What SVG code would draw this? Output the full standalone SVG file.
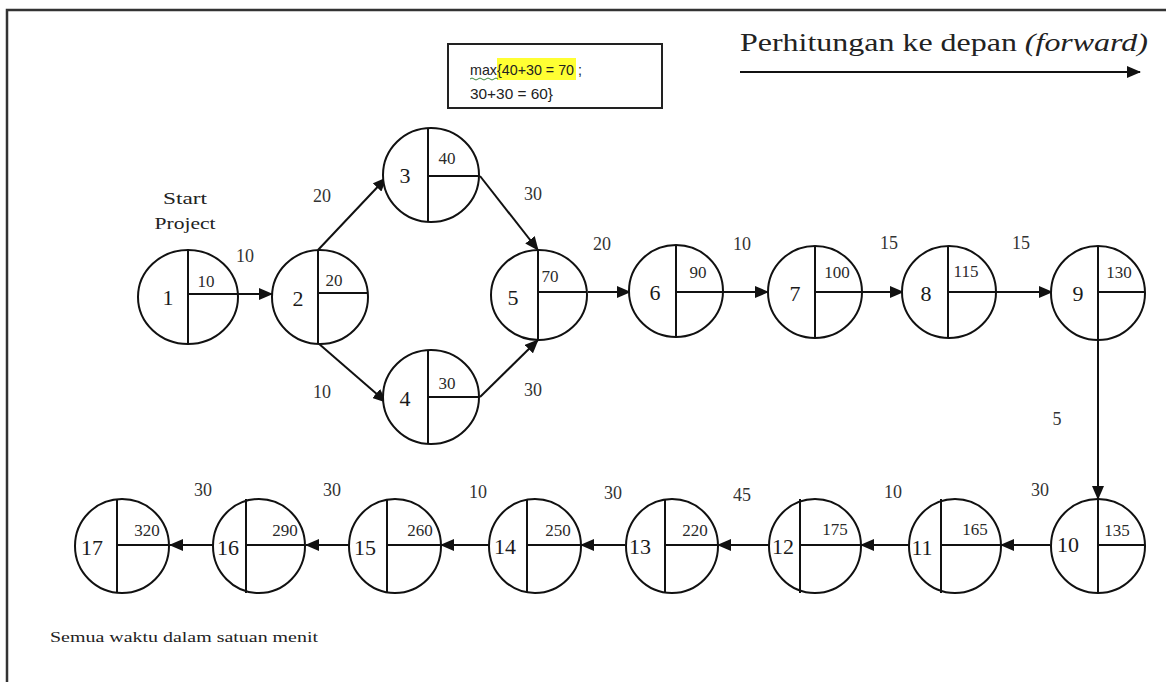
<svg xmlns="http://www.w3.org/2000/svg" width="1166" height="682" viewBox="0 0 1166 682">
  <style>
    .frame { fill: none; stroke: #333; stroke-width: 2.5; }
    .node ellipse { fill: #fff; stroke: #111; stroke-width: 2; }
    .node line { stroke: #111; stroke-width: 2; }
    .id { font-family: "Liberation Serif", serif; font-size: 22px; fill: #1a1a1a; text-anchor: middle; }
    .val { font-family: "Liberation Serif", serif; font-size: 17px; fill: #2a2a2a; text-anchor: middle; }
    .edge { stroke: #111; stroke-width: 2; fill: none; marker-end: url(#arrow); }
    .w { font-family: "Liberation Serif", serif; font-size: 18px; fill: #333; text-anchor: middle; }
    .note { font-family: "Liberation Serif", serif; font-size: 16px; fill: #222; text-anchor: middle; }
    .box { fill: #fff; stroke: #222; stroke-width: 2; }
    .boxtxt { font-family: "Liberation Sans", sans-serif; font-size: 15px; fill: #222; }
  </style>
  <defs>
    <marker id="arrow" markerUnits="userSpaceOnUse" markerWidth="14" markerHeight="12" refX="13" refY="6" orient="auto">
      <path d="M0,0 L14,6 L0,12 z" fill="#111"/>
    </marker>
  </defs>

  <rect width="1166" height="682" fill="#fff"/>
  <!-- outer frame -->
  <path class="frame" d="M7,682 V10 H1166"/>

  <!-- direction heading -->
  <g id="heading">
    <text x="740" y="51" font-family="Liberation Serif, serif" font-size="25" fill="#222" textLength="408" lengthAdjust="spacingAndGlyphs">Perhitungan ke depan <tspan font-style="italic">(forward)</tspan></text>
    <line x1="740" y1="72" x2="1140" y2="72" class="edge"/>
  </g>

  <!-- max note -->
  <g id="maxnote">
    <rect class="box" x="448" y="44" width="214" height="64"/>
    <rect x="497" y="58" width="79" height="22" fill="#ffff33"/>
    <text class="boxtxt" x="470" y="75" textLength="112" lengthAdjust="spacingAndGlyphs">max{40+30 = 70 ;</text>
    <text class="boxtxt" x="470" y="99" textLength="83" lengthAdjust="spacingAndGlyphs">30+30 = 60}</text>
    <path d="M470,79 q2,-2 4,0 t4,0 t4,0 t4,0 t4,0 t4,0 t4,0" fill="none" stroke="#3a8a3a" stroke-width="1"/>
  </g>

  <!-- connectors -->
  <g id="connectors">
    <line class="edge" x1="238" y1="294" x2="272" y2="294"/>
    <line class="edge" x1="318" y1="250" x2="386" y2="178"/>
    <line class="edge" x1="318" y1="343" x2="386" y2="402"/>
    <line class="edge" x1="480" y1="176" x2="538" y2="250"/>
    <line class="edge" x1="480" y1="397" x2="538" y2="340"/>
    <line class="edge" x1="588" y1="292" x2="630" y2="292"/>
    <line class="edge" x1="723" y1="292" x2="768" y2="292"/>
    <line class="edge" x1="862" y1="292" x2="903" y2="292"/>
    <line class="edge" x1="995" y1="292" x2="1052" y2="292"/>
    <line class="edge" x1="1098" y1="340" x2="1098" y2="499"/>
    <line class="edge" x1="1050" y1="545" x2="1001" y2="545"/>
    <line class="edge" x1="910" y1="545" x2="861" y2="545"/>
    <line class="edge" x1="770" y1="545" x2="718" y2="545"/>
    <line class="edge" x1="625" y1="545" x2="581" y2="545"/>
    <line class="edge" x1="490" y1="545" x2="441" y2="545"/>
    <line class="edge" x1="350" y1="545" x2="306" y2="545"/>
    <line class="edge" x1="213" y1="545" x2="170" y2="545"/>
  </g>

  <!-- durations -->
  <g id="durations">
    <text class="w" x="245" y="262">10</text>
    <text class="w" x="322" y="202">20</text>
    <text class="w" x="322" y="398">10</text>
    <text class="w" x="533" y="200">30</text>
    <text class="w" x="533" y="396">30</text>
    <text class="w" x="602" y="250">20</text>
    <text class="w" x="742" y="250">10</text>
    <text class="w" x="889" y="249">15</text>
    <text class="w" x="1021" y="249">15</text>
    <text class="w" x="1057" y="425">5</text>
    <text class="w" x="1040" y="496">30</text>
    <text class="w" x="893" y="498">10</text>
    <text class="w" x="742" y="501" font-size="21">45</text>
    <text class="w" x="613" y="499">30</text>
    <text class="w" x="478" y="498">10</text>
    <text class="w" x="332" y="496">30</text>
    <text class="w" x="203" y="496">30</text>
  </g>

  <text class="note" x="185" y="204" textLength="44" lengthAdjust="spacingAndGlyphs">Start</text>
  <text class="note" x="185" y="229" textLength="61" lengthAdjust="spacingAndGlyphs">Project</text>

  <!-- event nodes -->
  <g id="n1" class="node" transform="translate(188,297)">
    <ellipse rx="50" ry="47"/><line x1="0" y1="-47" x2="0" y2="47"/><line x1="0" y1="-3" x2="50" y2="-3"/>
    <text class="id" x="-20" y="8">1</text><text class="val" x="18" y="-10">10</text>
  </g>
  <g id="n2" class="node" transform="translate(320,297)">
    <ellipse rx="48" ry="47"/><line x1="-2" y1="-47" x2="-2" y2="47"/><line x1="-2" y1="-4" x2="48" y2="-4"/>
    <text class="id" x="-22" y="9">2</text><text class="val" x="14" y="-11">20</text>
  </g>
  <g id="n3" class="node" transform="translate(431,175)">
    <ellipse rx="48" ry="47"/><line x1="-3" y1="-47" x2="-3" y2="47"/><line x1="-3" y1="1" x2="48" y2="1"/>
    <text class="id" x="-26" y="8">3</text><text class="val" x="16" y="-11" font-size="15">40</text>
  </g>
  <g id="n4" class="node" transform="translate(431,397)">
    <ellipse rx="48" ry="47"/><line x1="-3" y1="-47" x2="-3" y2="47"/><line x1="-3" y1="0" x2="48" y2="0"/>
    <text class="id" x="-26" y="9">4</text><text class="val" x="16" y="-8">30</text>
  </g>
  <g id="n5" class="node" transform="translate(539,295)">
    <ellipse rx="48" ry="45"/><line x1="-1" y1="-45" x2="-1" y2="45"/><line x1="-1" y1="-3" x2="48" y2="-3"/>
    <text class="id" x="-26" y="10" font-size="24">5</text><text class="val" x="11" y="-13">70</text>
  </g>
  <g id="n6" class="node" transform="translate(676,291)">
    <ellipse rx="47" ry="46"/><line x1="0" y1="-46" x2="0" y2="46"/><line x1="0" y1="1" x2="47" y2="1"/>
    <text class="id" x="-21" y="9">6</text><text class="val" x="22" y="-13" font-size="15">90</text>
  </g>
  <g id="n7" class="node" transform="translate(815,292)">
    <ellipse rx="47" ry="46"/><line x1="0" y1="-46" x2="0" y2="46"/><line x1="0" y1="0" x2="47" y2="0"/>
    <text class="id" x="-20" y="9">7</text><text class="val" x="22" y="-14" font-size="18">100</text>
  </g>
  <g id="n8" class="node" transform="translate(949,292)">
    <ellipse rx="47" ry="46"/><line x1="-1" y1="-46" x2="-1" y2="46"/><line x1="-1" y1="0" x2="47" y2="0"/>
    <text class="id" x="-23" y="9" font-size="24">8</text><text class="val" x="17" y="-15" font-size="15">115</text>
  </g>
  <g id="n9" class="node" transform="translate(1098,293)">
    <ellipse rx="47" ry="47"/><line x1="0" y1="-47" x2="0" y2="47"/><line x1="0" y1="-1" x2="47" y2="-1"/>
    <text class="id" x="-20" y="8">9</text><text class="val" x="21" y="-15" font-size="21">130</text>
  </g>
  <g id="n10" class="node" transform="translate(1098,546)">
    <ellipse rx="47" ry="47"/><line x1="0" y1="-47" x2="0" y2="47"/><line x1="0" y1="-1" x2="47" y2="-1"/>
    <text class="id" x="-30" y="6" font-size="17">10</text><text class="val" x="19" y="-10" font-size="18">135</text>
  </g>
  <g id="n11" class="node" transform="translate(955,546)">
    <ellipse rx="46" ry="47"/><line x1="-14" y1="-47" x2="-14" y2="47"/><line x1="-14" y1="-1" x2="46" y2="-1"/>
    <text class="id" x="-33" y="9" font-size="23">11</text><text class="val" x="20" y="-11">165</text>
  </g>
  <g id="n12" class="node" transform="translate(815,546)">
    <ellipse rx="46" ry="47"/><line x1="-15" y1="-47" x2="-15" y2="47"/><line x1="-15" y1="-1" x2="46" y2="-1"/>
    <text class="id" x="-32" y="8" font-size="23">12</text><text class="val" x="20" y="-11">175</text>
  </g>
  <g id="n13" class="node" transform="translate(672,546)">
    <ellipse rx="46" ry="47"/><line x1="-7" y1="-47" x2="-7" y2="47"/><line x1="-7" y1="-1" x2="46" y2="-1"/>
    <text class="id" x="-32" y="8" font-size="20">13</text><text class="val" x="23" y="-10" font-size="18">220</text>
  </g>
  <g id="n14" class="node" transform="translate(535,546)">
    <ellipse rx="46" ry="47"/><line x1="-8" y1="-47" x2="-8" y2="47"/><line x1="-8" y1="-1" x2="46" y2="-1"/>
    <text class="id" x="-30" y="8" font-size="21">14</text><text class="val" x="23" y="-10">250</text>
  </g>
  <g id="n15" class="node" transform="translate(395,546)">
    <ellipse rx="46" ry="47"/><line x1="-8" y1="-47" x2="-8" y2="47"/><line x1="-8" y1="-1" x2="46" y2="-1"/>
    <text class="id" x="-30" y="9" font-size="23">15</text><text class="val" x="25" y="-10" font-size="19">260</text>
  </g>
  <g id="n16" class="node" transform="translate(259,546)">
    <ellipse rx="46" ry="47"/><line x1="-13" y1="-47" x2="-13" y2="47"/><line x1="-13" y1="-1" x2="46" y2="-1"/>
    <text class="id" x="-31" y="9" font-size="21">16</text><text class="val" x="26" y="-10" font-size="19">290</text>
  </g>
  <g id="n17" class="node" transform="translate(122,546)">
    <ellipse rx="47" ry="47"/><line x1="-5" y1="-47" x2="-5" y2="47"/><line x1="-5" y1="-1" x2="47" y2="-1"/>
    <text class="id" x="-30" y="9" font-size="21">17</text><text class="val" x="25" y="-10" font-size="19">320</text>
  </g>

  <text x="50" y="642" font-family="Liberation Serif, serif" font-size="15" fill="#222" textLength="268" lengthAdjust="spacingAndGlyphs">Semua waktu dalam satuan menit</text>
</svg>
